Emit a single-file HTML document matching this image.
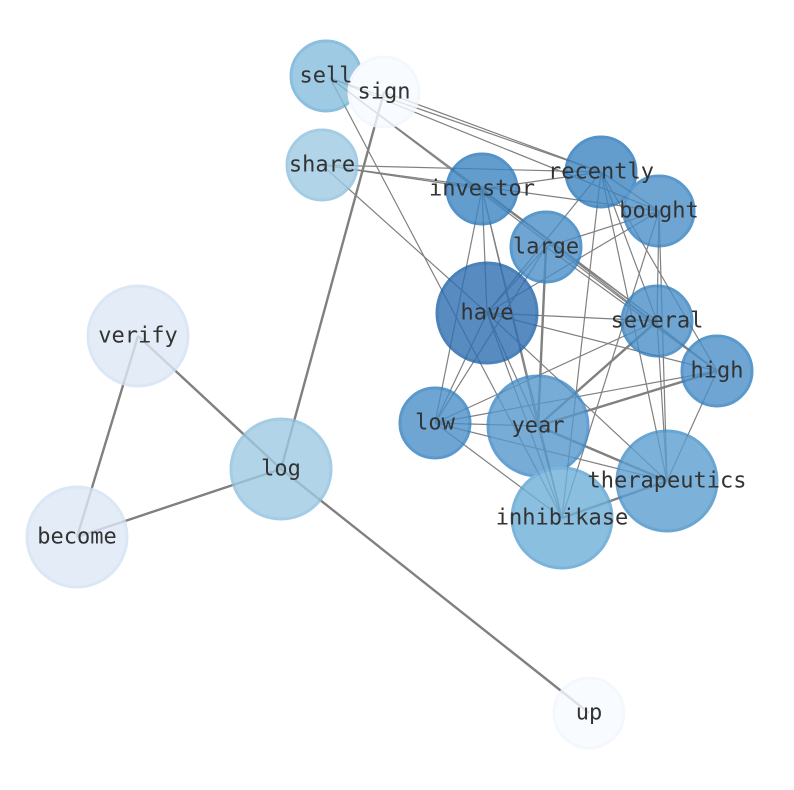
<!DOCTYPE html>
<html><head><meta charset="utf-8"><style>html,body{margin:0;padding:0;background:#fff}svg{display:block}</style></head>
<body>
<svg width="794" height="790" viewBox="0 0 794 790" xmlns="http://www.w3.org/2000/svg">
<rect width="794" height="790" fill="#fff"/>
<g stroke="#808080" stroke-width="1.2" fill="none">
<line x1="330" y1="78" x2="601" y2="172"/>
<line x1="330" y1="78" x2="659" y2="211"/>
<line x1="330" y1="78" x2="657" y2="321"/>
<line x1="330" y1="78" x2="717" y2="371"/>
<line x1="330" y1="78" x2="562" y2="518"/>
<line x1="384" y1="92" x2="601" y2="172"/>
<line x1="322" y1="165" x2="482" y2="189"/>
<line x1="322" y1="165" x2="601" y2="172"/>
<line x1="322" y1="165" x2="659" y2="211"/>
<line x1="322" y1="165" x2="487" y2="313"/>
<line x1="482" y1="189" x2="601" y2="172"/>
<line x1="482" y1="189" x2="657" y2="321"/>
<line x1="482" y1="189" x2="717" y2="371"/>
<line x1="482" y1="189" x2="487" y2="313"/>
<line x1="482" y1="189" x2="435" y2="423"/>
<line x1="482" y1="189" x2="538" y2="426"/>
<line x1="482" y1="189" x2="562" y2="518"/>
<line x1="601" y1="172" x2="487" y2="313"/>
<line x1="601" y1="172" x2="659" y2="211"/>
<line x1="601" y1="172" x2="657" y2="321"/>
<line x1="601" y1="172" x2="717" y2="371"/>
<line x1="601" y1="172" x2="667" y2="481"/>
<line x1="601" y1="172" x2="562" y2="518"/>
<line x1="659" y1="211" x2="546" y2="247"/>
<line x1="659" y1="211" x2="487" y2="313"/>
<line x1="659" y1="211" x2="657" y2="321"/>
<line x1="659" y1="211" x2="667" y2="481"/>
<line x1="659" y1="211" x2="562" y2="518"/>
<line x1="546" y1="247" x2="487" y2="313"/>
<line x1="546" y1="247" x2="435" y2="423"/>
<line x1="546" y1="247" x2="717" y2="371"/>
<line x1="487" y1="313" x2="657" y2="321"/>
<line x1="487" y1="313" x2="717" y2="371"/>
<line x1="487" y1="313" x2="435" y2="423"/>
<line x1="487" y1="313" x2="538" y2="426"/>
<line x1="487" y1="313" x2="562" y2="518"/>
<line x1="487" y1="313" x2="667" y2="481"/>
<line x1="657" y1="321" x2="435" y2="423"/>
<line x1="657" y1="321" x2="667" y2="481"/>
<line x1="717" y1="371" x2="435" y2="423"/>
<line x1="717" y1="371" x2="667" y2="481"/>
<line x1="435" y1="423" x2="538" y2="426"/>
<line x1="435" y1="423" x2="667" y2="481"/>
<line x1="435" y1="423" x2="562" y2="518"/>
<line x1="538" y1="426" x2="562" y2="518"/>
</g>
<g stroke="#808080" stroke-width="2.4" fill="none">
<line x1="546" y1="247" x2="538" y2="426"/>
<line x1="538" y1="426" x2="657" y2="321"/>
<line x1="538" y1="426" x2="717" y2="371"/>
<line x1="538" y1="426" x2="667" y2="481"/>
<line x1="562" y1="518" x2="667" y2="481"/>
<line x1="384" y1="92" x2="281" y2="469"/>
<line x1="138" y1="336" x2="281" y2="469"/>
<line x1="281" y1="469" x2="589" y2="713"/>
<line x1="281" y1="469" x2="77" y2="537"/>
<line x1="138" y1="336" x2="77" y2="537"/>
</g>
<g stroke-width="3" opacity="0.8">
<circle cx="326" cy="76" r="35" fill="#86bedd" stroke="#6fb0d6"/>
<circle cx="384" cy="92" r="35" fill="#f7fbff" stroke="#f2f7fd"/>
<circle cx="322" cy="165" r="35" fill="#a0cae3" stroke="#8fc0df"/>
<circle cx="482" cy="189" r="35" fill="#3d85c2" stroke="#2a78bb"/>
<circle cx="601" cy="172" r="35" fill="#3d85c2" stroke="#2a78bb"/>
<circle cx="659" cy="211" r="35" fill="#4a8fc8" stroke="#3380c0"/>
<circle cx="546" cy="247" r="35" fill="#4a8fc8" stroke="#3380c0"/>
<circle cx="487" cy="313" r="50" fill="#2f70b2" stroke="#1f63a8"/>
<circle cx="657" cy="321" r="35" fill="#4a8fc8" stroke="#3380c0"/>
<circle cx="717" cy="371" r="35" fill="#4a8fc8" stroke="#3380c0"/>
<circle cx="138" cy="336" r="50" fill="#dde8f6" stroke="#d3e2f3"/>
<circle cx="435" cy="423" r="35" fill="#4a8fc8" stroke="#3380c0"/>
<circle cx="538" cy="426" r="50" fill="#5598cd" stroke="#3f89c5"/>
<circle cx="281" cy="469" r="50" fill="#a0cae3" stroke="#8fc0df"/>
<circle cx="667" cy="481" r="50" fill="#5c9fd0" stroke="#4690c8"/>
<circle cx="562" cy="518" r="50" fill="#6eb0d9" stroke="#59a2d2"/>
<circle cx="77" cy="537" r="50" fill="#dde8f6" stroke="#d3e2f3"/>
<circle cx="589" cy="713" r="35" fill="#f7fbff" stroke="#f2f7fd"/>
</g>
<g font-family="'DejaVu Sans Mono','Liberation Mono',monospace" font-size="22" fill="#333" text-anchor="middle" dominant-baseline="central">
<text x="326" y="76">sell</text>
<text x="384" y="92">sign</text>
<text x="322" y="165">share</text>
<text x="482" y="189">investor</text>
<text x="601" y="172">recently</text>
<text x="659" y="211">bought</text>
<text x="546" y="247">large</text>
<text x="487" y="313">have</text>
<text x="657" y="321">several</text>
<text x="717" y="371">high</text>
<text x="138" y="336">verify</text>
<text x="435" y="423">low</text>
<text x="538" y="426">year</text>
<text x="281" y="469">log</text>
<text x="667" y="481">therapeutics</text>
<text x="562" y="518">inhibikase</text>
<text x="77" y="537">become</text>
<text x="589" y="713">up</text>
</g>
</svg>
</body></html>
